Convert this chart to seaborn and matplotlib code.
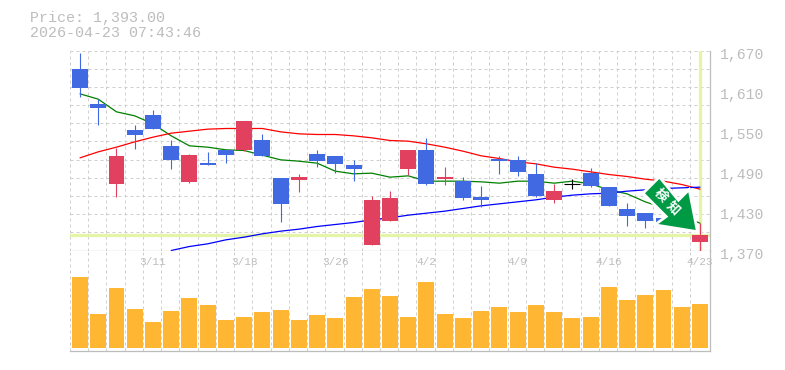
import numpy as np
import pandas as pd
import matplotlib
matplotlib.use('Agg')
import matplotlib.pyplot as plt
from matplotlib.patches import Polygon
from matplotlib.transforms import ScaledTranslation
import seaborn as sns

# daily candles
open_p = [1642, 1590, 1470, 1551, 1573, 1527, 1473, 1502, 1521, 1521, 1536, 1479, 1476, 1515, 1512, 1498, 1378, 1414,
          1492, 1521, 1477, 1474, 1450, 1507, 1506, 1485, 1446, 1470, 1486, 1465, 1432, 1426, 1419, 1425, 1383]
close_p = [1614, 1584, 1512, 1543, 1552, 1506, 1513, 1498, 1513, 1564, 1512, 1440, 1480, 1504, 1500, 1492, 1446, 1449,
           1521, 1470, 1480, 1449, 1446, 1504, 1488, 1452, 1459, 1470, 1467, 1437, 1422, 1414, 1410, 1409, 1393]
high_p = [1666, 1597, 1524, 1558, 1581, 1536, 1515, 1518, 1521, 1564, 1545, 1479, 1485, 1521, 1512, 1506, 1452, 1459,
          1521, 1539, 1495, 1480, 1467, 1512, 1512, 1501, 1470, 1477, 1494, 1465, 1441, 1426, 1419, 1428, 1411]
low_p = [1601, 1559, 1451, 1523, 1552, 1492, 1471, 1498, 1501, 1519, 1512, 1413, 1458, 1495, 1486, 1474, 1378, 1414,
         1483, 1468, 1468, 1446, 1435, 1485, 1482, 1450, 1441, 1462, 1465, 1437, 1407, 1404, 1410, 1408, 1369]
ma_short = [1605, 1597, 1578, 1572, 1560, 1542, 1527, 1525, 1521, 1520, 1513, 1506, 1504, 1501, 1489, 1485, 1486, 1480,
            1482, 1474, 1474, 1474, 1473, 1471, 1474, 1474, 1471, 1474, 1470, 1461, 1455, 1443, 1434, 1422, 1411]
ma_mid = [1509, 1518, 1525, 1533, 1540, 1546, 1549, 1552, 1553, 1553, 1553, 1548, 1545, 1544, 1544, 1542, 1539, 1535,
          1534, 1530, 1525, 1519, 1512, 1508, 1503, 1500, 1495, 1492, 1488, 1484, 1481, 1477, 1474, 1469, 1462]
ma_long = [np.nan, np.nan, np.nan, np.nan, np.nan, 1370, 1376, 1380, 1386, 1390, 1395, 1399, 1402, 1406, 1409, 1412,
           1416, 1419, 1423, 1426, 1429, 1433, 1437, 1440, 1443, 1446, 1450, 1453, 1455, 1456, 1459, 1461, 1463, 1464, 1465]
volume = [710, 340, 600, 390, 260, 370, 500, 430, 280, 310, 360, 380, 280, 330, 300, 510, 590, 520,
          310, 660, 340, 300, 370, 410, 360, 430, 360, 300, 310, 610, 480, 530, 580, 410, 440]
price_ticks = [1370, 1430, 1490, 1550, 1610, 1670]
date_pos = [4, 9, 14, 19, 24, 29, 34]
date_labels = ['3/11', '3/18', '3/26', '4/2', '4/9', '4/16', '4/23']
last_price = 1393

RED = '#E2405F'
BLUE = '#4169E1'
GRID = '#CFCFCF'
AXIS = '#BDBDBD'
TEXT = '#BDBDBD'
MARK = '#E4F5A9'
W, H = 785, 370
DASH = (0, (3, 3))

sns.set_theme(style='white')
plt.rcParams['font.family'] = ['Liberation Mono', 'DejaVu Sans']

df = pd.DataFrame({'i': range(35), 'open': open_p, 'close': close_p, 'high': high_p, 'low': low_p,
                   'short': ma_short, 'mid': ma_mid, 'long': ma_long, 'volume': volume})

fig = plt.figure(figsize=(W / 100, H / 100), dpi=100)
ax = fig.add_axes([70 / W, 1 - 250.5 / H, 640 / W, 200 / H])
ax_v = fig.add_axes([70 / W, 1 - 350.5 / H, 640 / W, 100 / H], sharex=ax)

xmin, xmax = -0.55, 34.55
grid_x = np.arange(0, 36) + xmin

for a in (ax, ax_v):
    a.set_facecolor('white')
    a.vlines(grid_x[:-1], 0, 1, transform=a.get_xaxis_transform(), color=GRID, lw=0.72, ls=DASH, zorder=0)
    for s in ('top', 'left'):
        a.spines[s].set_visible(False)
    for s in ('bottom', 'right'):
        a.spines[s].set_color(AXIS)
        a.spines[s].set_linewidth(0.9)

ax.hlines(np.linspace(1370, 1670, 12)[1:], xmin, xmax, color=GRID, lw=0.72, ls=DASH, zorder=0)

# current price cross
ax.axhline(last_price, color=MARK, lw=2.4, zorder=1)
ax.axvline(34, color=MARK, lw=2.4, zorder=1)

# moving averages
for col, c in (('short', '#008000'), ('mid', '#FF0000'), ('long', '#0000FF')):
    sns.lineplot(data=df, x='i', y=col, color=c, lw=0.9, ax=ax, zorder=2, legend=False, errorbar=None)

# candles
for row in df.itertuples():
    c = 'black' if row.open == row.close else (RED if row.close > row.open else BLUE)
    ax.vlines(row.i, row.low, row.high, color=c, lw=0.8, zorder=3)
    lo, hi = sorted((row.open, row.close))
    if hi == lo:
        ax.hlines(lo, row.i - 0.44, row.i + 0.44, color=c, lw=0.8, zorder=3)
    else:
        ax.bar(row.i, hi - lo, bottom=lo, width=0.877, color=c, lw=0, zorder=3)

# sell signal arrow, placed in pixels
px = [(659.3, 179), (645, 193.3), (668.3, 216.7), (658.3, 224), (695.7, 230), (688.3, 192.3), (678.3, 202.3)]
fig.add_artist(Polygon([(x / W, 1 - y / H) for x, y in px], closed=True, transform=fig.transFigure,
                       facecolor='#009944', edgecolor='white', lw=0, zorder=5))
halo = Polygon([(x / W, 1 - y / H) for x, y in px], closed=True, transform=fig.transFigure,
               facecolor='white', edgecolor='white', lw=4, zorder=4.5)
fig.add_artist(halo)
for tx, ty, ch in ((660.7, 195, '検'), (673, 208, '知')):
    fig.text(tx / W, 1 - ty / H, ch, color='white', fontsize=9.5, fontweight='bold', rotation=-45, ha='center',
             va='center', family=['Noto Sans CJK JP', 'DejaVu Sans'], zorder=6, rotation_mode='anchor')

ax.set_xlim(xmin, xmax)
ax.set_ylim(1370, 1670)
ax.set_xlabel('')
ax.set_ylabel('')
ax.yaxis.tick_right()
ax.set_yticks(price_ticks)
ax.set_yticklabels([f'{p:,}' for p in price_ticks], color=TEXT, fontsize=10.6)
ax.tick_params(axis='y', length=0, pad=7)
ax.tick_params(axis='x', length=0, labelbottom=False)
shift = ScaledTranslation(0, -2 / 72, fig.dpi_scale_trans)
for lab in ax.get_yticklabels():
    lab.set_transform(lab.get_transform() + shift)

# volume panel
sns.barplot(data=df, x='i', y='volume', native_scale=True, color='#FFB733', saturation=1, width=0.877, ax=ax_v,
            linewidth=0, zorder=2, errorbar=None)
ax_v.set_xlim(xmin, xmax)
ax_v.set_ylim(-25, 975)
ax_v.set_xlabel('')
ax_v.set_ylabel('')
ax_v.set_yticks([])
ax_v.tick_params(axis='x', length=0, labelbottom=False)
for pos, lab in zip(date_pos, date_labels):
    ax_v.text(pos, 0.885, lab, transform=ax_v.get_xaxis_transform(), color='#BEBEBE', fontsize=8, ha='center',
              va='center', clip_on=False)

fig.text(30 / W, 1 - 18 / H, 'Price: 1,393.00', color=TEXT, fontsize=10.8, va='center')
fig.text(30 / W, 1 - 33 / H, '2026-04-23 07:43:46', color=TEXT, fontsize=10.8, va='center')

fig.savefig('out.png', dpi=100, facecolor='white')
